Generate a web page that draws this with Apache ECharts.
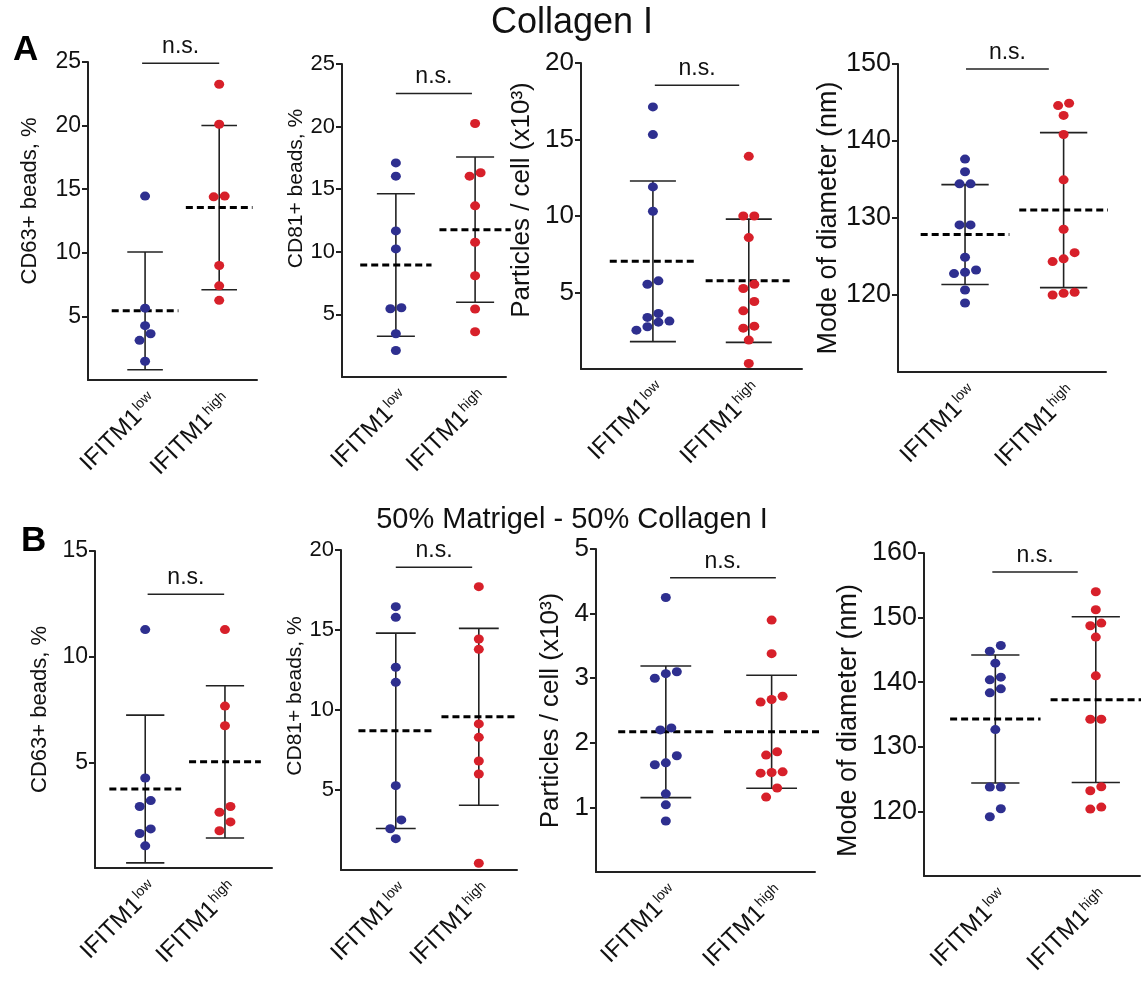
<!DOCTYPE html>
<html>
<head>
<meta charset="utf-8">
<script src="https://cdn.jsdelivr.net/npm/echarts@6/dist/echarts.min.js"></script>
<style>
html, body { margin: 0; padding: 0; background: #fff; }
#chart-panel { width: 1144px; height: 985px; }
</style>
</head>
<body>
<div id="chart-panel"></div>
<script>
var FONT = '"Liberation Sans", Arial, Helvetica, sans-serif';
var BLUE = '#2e2f8f';
var RED = '#d7202a';

var groupNames = ['low', 'high'];

// A: Collagen I
var cd63A_low  = [14.46, 5.65, 4.27, 3.64, 3.12, 1.47];
var cd63A_high = [23.25, 20.11, 14.46, 14.4, 9.0, 7.4, 6.26];
var cd81A_low  = [17.1, 16.04, 11.67, 10.23, 5.53, 5.45, 3.45, 2.12];
var cd81A_high = [20.25, 16.31, 16.04, 13.67, 10.76, 8.09, 5.43, 3.61];
var partA_low  = [17.13, 15.32, 11.9, 10.31, 5.76, 5.54, 3.63, 3.37, 3.13, 3.06, 2.76, 2.54];
var partA_high = [13.9, 10.0, 10.0, 8.59, 5.54, 5.26, 4.41, 3.8, 2.8, 2.67, 1.89, 0.36];
var diamA_low  = [137.65, 136.0, 134.44, 134.44, 129.1, 129.1, 124.9, 123.25, 122.95, 122.78, 120.65, 118.96];
var diamA_high = [144.9, 144.6, 143.32, 140.85, 134.96, 128.54, 125.5, 124.7, 124.34, 120.35, 120.22, 120.0];

// B: 50% Matrigel - 50% Collagen I
var cd63B_low  = [11.28, 4.26, 3.19, 2.91, 1.85, 1.63, 1.05];
var cd63B_high = [11.28, 7.66, 6.73, 2.91, 2.64, 2.18, 1.76];
var cd81B_low  = [16.46, 15.79, 12.67, 11.73, 5.27, 3.13, 2.58, 1.96];
var cd81B_high = [17.71, 14.44, 13.79, 9.13, 8.29, 6.81, 6.0, 0.42];
var partB_low  = [4.25, 3.1, 3.07, 3.0, 2.23, 2.2, 1.8, 1.69, 1.66, 1.21, 1.04, 0.79];
var partB_high = [3.9, 3.38, 2.72, 2.67, 2.63, 1.86, 1.81, 1.55, 1.54, 1.53, 1.3, 1.16];
var diamB_low  = [145.68, 144.81, 142.95, 140.78, 140.36, 138.97, 138.35, 132.66, 123.77, 123.77, 120.41, 119.17];
var diamB_high = [154.0, 151.21, 149.15, 148.73, 146.98, 140.98, 134.26, 134.26, 123.82, 123.2, 120.67, 120.36];

// y tick labels per panel
var ticksCD63A = [5, 10, 15, 20, 25];
var ticksCD81A = [5, 10, 15, 20, 25];
var ticksPartA = [5, 10, 15, 20];
var ticksDiamA = [120, 130, 140, 150];
var ticksCD63B = [5, 10, 15];
var ticksCD81B = [5, 10, 15, 20];
var ticksPartB = [1, 2, 3, 4, 5];
var ticksDiamB = [120, 130, 140, 150, 160];

// lift = shift of the axis title towards the top, in px
var panels = [
    { name: 'CD63+ beads, %', low: cd63A_low, high: cd63A_high, ticks: ticksCD63A, ymin: 0, ymax: 25,
      grid: [88, 62, 169, 318], xr: [-0.77, 1.51], gap: 47, fs: 22, tfs: 23, lift: 20, sig: [-0.04, 1.0, 24.9] },
    { name: 'CD81+ beads, %', low: cd81A_low, high: cd81A_high, ticks: ticksCD81A, ymin: 0, ymax: 25,
      grid: [342, 64, 164, 313], xr: [-0.68, 1.39], gap: 31, fs: 21, tfs: 22, lift: 32, sig: [0, 0.96, 22.65] },
    { name: 'Particles / cell (x10³)', low: partA_low, high: partA_high, ticks: ticksPartA, ymin: 0, ymax: 20,
      grid: [581, 63, 221, 306], xr: [-0.75, 1.555], gap: 46, fs: 26, tfs: 26, lift: 16, sig: [0.02, 0.9, 18.54] },
    { name: 'Mode of diameter (nm)', low: diamA_low, high: diamA_high, ticks: ticksDiamA, ymin: 110, ymax: 150,
      grid: [898, 64, 208, 308], xr: [-0.68, 1.43], gap: 56, fs: 27, tfs: 27, lift: 0, sig: [0.01, 0.85, 149.35] },
    { name: 'CD63+ beads, %', low: cd63B_low, high: cd63B_high, ticks: ticksCD63B, ymin: 0, ymax: 15,
      grid: [95, 551, 177, 317], xr: [-0.63, 1.59], gap: 44, fs: 22, tfs: 23, lift: 0, sig: [0.03, 0.99, 12.95] },
    { name: 'CD81+ beads, %', low: cd81B_low, high: cd81B_high, ticks: ticksCD81B, ymin: 0, ymax: 20,
      grid: [341, 550, 176, 320], xr: [-0.66, 1.46], gap: 30, fs: 21, tfs: 22, lift: 14, sig: [0, 0.92, 18.92] },
    { name: 'Particles / cell (x10³)', low: partB_low, high: partB_high, ticks: ticksPartB, ymin: 0, ymax: 5,
      grid: [596, 549, 219, 323], xr: [-0.66, 1.41], gap: 32, fs: 26, tfs: 26, lift: 0, sig: [0.04, 1.04, 4.555] },
    { name: 'Mode of diameter (nm)', low: diamB_low, high: diamB_high, ticks: ticksDiamB, ymin: 110, ymax: 160,
      grid: [924, 553, 216, 323], xr: [-0.71, 1.44], gap: 62, fs: 27, tfs: 27, lift: -6, sig: [-0.03, 0.82, 157.05] }
];

function mean(a) {
    var s = 0;
    a.forEach(function (v) { s += v; });
    return s / a.length;
}
function sd(a) {
    var m = mean(a), s = 0;
    a.forEach(function (v) { s += (v - m) * (v - m); });
    return Math.sqrt(s / (a.length - 1));
}

// scatter-dot spreading: points closer than rowH px vertically share a row
function swarm(vals, pxPerUnit, rowH, step) {
    var idx = vals.map(function (v, i) { return i; })
        .sort(function (a, b) { return vals[a] - vals[b]; });
    var off = [];
    var k = 0;
    while (k < idx.length) {
        var row = [idx[k]];
        var base = vals[idx[k]];
        k++;
        while (k < idx.length && (vals[idx[k]] - base) * pxPerUnit < rowH) {
            row.push(idx[k]);
            k++;
        }
        row.forEach(function (j, n) { off[j] = (n - (row.length - 1) / 2) * step; });
    }
    return off;
}

function renderErr(params, api) {
    var x = api.value(0), m = api.value(1), s = api.value(2);
    var c = api.coord([x, m]);
    var hi = api.coord([x, m + s]);
    var lo = api.coord([x, m - s]);
    var cap = api.size([0.24, 0])[0];
    var half = api.size([0.45, 0])[0];
    var ls = { stroke: '#222', lineWidth: 1.6 };
    return {
        type: 'group',
        children: [
            { type: 'line', shape: { x1: hi[0], y1: hi[1], x2: lo[0], y2: lo[1] }, style: ls },
            { type: 'line', shape: { x1: hi[0] - cap, y1: hi[1], x2: hi[0] + cap, y2: hi[1] }, style: ls },
            { type: 'line', shape: { x1: lo[0] - cap, y1: lo[1], x2: lo[0] + cap, y2: lo[1] }, style: ls },
            { type: 'line', shape: { x1: c[0] - half, y1: c[1], x2: c[0] + half, y2: c[1] },
              style: { stroke: '#000', lineWidth: 3, lineDash: [7, 4] } }
        ]
    };
}

function renderSig(params, api) {
    var a = api.coord([api.value(0), api.value(2)]);
    var b = api.coord([api.value(1), api.value(2)]);
    return {
        type: 'group',
        children: [
            { type: 'line', shape: { x1: a[0], y1: a[1], x2: b[0], y2: b[1] },
              style: { stroke: '#222', lineWidth: 1.5 } },
            { type: 'text', x: (a[0] + b[0]) / 2, y: a[1] - 5,
              style: { text: 'n.s.', fill: '#111', fontSize: 23, fontFamily: FONT,
                       align: 'center', verticalAlign: 'bottom' } }
        ]
    };
}

var grids = [], xAxes = [], yAxes = [], series = [];

panels.forEach(function (p, i) {
    grids.push({ left: p.grid[0], top: p.grid[1], width: p.grid[2], height: p.grid[3] });
    xAxes.push({
        gridIndex: i, type: 'value', min: p.xr[0], max: p.xr[1],
        splitLine: { show: false },
        axisTick: { show: false },
        axisLine: { onZero: false, lineStyle: { color: '#222', width: 2 } },
        axisLabel: {
            customValues: [0, 1],
            rotate: 45,
            margin: 9,
            verticalAlign: 'top',
            color: '#111',
            fontFamily: FONT,
            formatter: function (v) {
                return '{m|IFITM1}{s|' + groupNames[v] + '}';
            },
            rich: {
                m: { fontSize: 24, fontFamily: FONT, color: '#111' },
                s: { fontSize: 14, fontFamily: FONT, color: '#111', verticalAlign: 'top', padding: [0, 0, 11, 1] }
            }
        }
    });
    yAxes.push({
        gridIndex: i, type: 'value', min: p.ymin, max: p.ymax,
        name: p.name, nameLocation: 'middle', nameGap: p.gap, nameRotate: 90,
        nameTextStyle: {
            fontSize: p.fs, fontFamily: FONT, color: '#111',
            padding: p.lift >= 0 ? [0, 0, 0, 2 * p.lift] : [0, -2 * p.lift, 0, 0]
        },
        splitLine: { show: false },
        axisLine: { show: true, onZero: false, lineStyle: { color: '#222', width: 2 } },
        axisTick: { show: true, customValues: p.ticks, length: 6, lineStyle: { color: '#222', width: 2 } },
        axisLabel: { customValues: p.ticks, margin: 7, fontSize: p.tfs, fontFamily: FONT, color: '#111' }
    });

    var pxY = p.grid[3] / (p.ymax - p.ymin);
    [p.low, p.high].forEach(function (vals, g) {
        var off = swarm(vals, pxY, 9.5, 11);
        series.push({
            type: 'scatter', xAxisIndex: i, yAxisIndex: i, z: 5,
            symbolSize: [10, 9],
            itemStyle: { color: g === 0 ? BLUE : RED, opacity: 1 },
            data: vals.map(function (v, j) {
                return { value: [g, v], symbolOffset: [off[j], 0] };
            })
        });
    });

    series.push({
        type: 'custom', xAxisIndex: i, yAxisIndex: i, z: 3, clip: false,
        renderItem: renderErr,
        data: [[0, mean(p.low), sd(p.low)], [1, mean(p.high), sd(p.high)]]
    });
    series.push({
        type: 'custom', xAxisIndex: i, yAxisIndex: i, z: 3, clip: false,
        renderItem: renderSig,
        data: [p.sig]
    });
});

var myChart = echarts.init(document.getElementById('chart-panel'));
myChart.setOption({
    backgroundColor: '#fff',
    animation: false,
    title: [
        { text: 'Collagen I', left: 'center', top: 0,
          textStyle: { fontSize: 36, fontWeight: 'normal', fontFamily: FONT, color: '#111' } },
        { text: '50% Matrigel - 50% Collagen I', left: 'center', top: 500,
          textStyle: { fontSize: 29, fontWeight: 'normal', fontFamily: FONT, color: '#111' } },
        { text: 'A', left: 8, top: 28,
          textStyle: { fontSize: 35, fontWeight: 'bold', fontFamily: FONT, color: '#000' } },
        { text: 'B', left: 16, top: 519,
          textStyle: { fontSize: 35, fontWeight: 'bold', fontFamily: FONT, color: '#000' } }
    ],
    grid: grids,
    xAxis: xAxes,
    yAxis: yAxes,
    series: series
});
</script>
</body>
</html>
